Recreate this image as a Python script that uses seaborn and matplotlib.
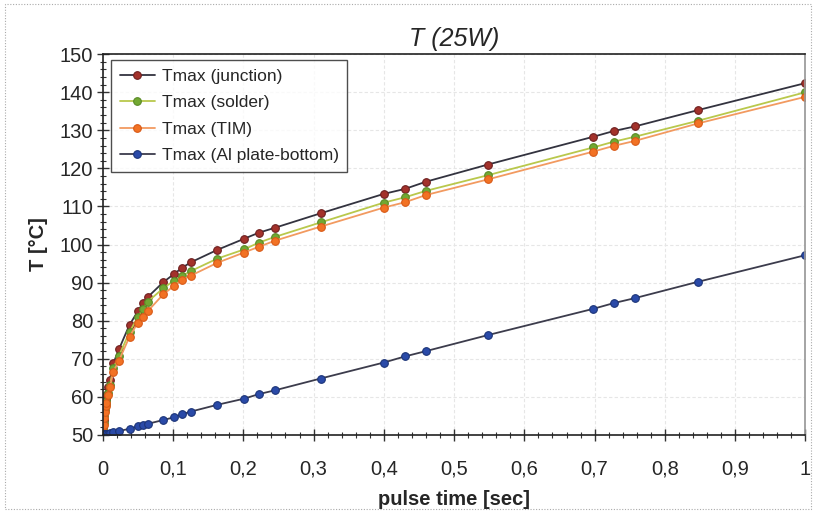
import pandas as pd
import seaborn as sns
import matplotlib.pyplot as plt
from matplotlib.patches import Rectangle
from matplotlib.ticker import MultipleLocator, FuncFormatter

sns.set_theme(style="white")
plt.rcParams['font.family'] = ['Liberation Sans', 'DejaVu Sans']

# pulse time [sec]
t = [0, 0.0005, 0.001, 0.002, 0.003, 0.004, 0.005, 0.007, 0.010, 0.015, 0.023,
     0.038, 0.050, 0.057, 0.064, 0.086, 0.101, 0.113, 0.125, 0.163, 0.201, 0.222,
     0.245, 0.310, 0.400, 0.430, 0.460, 0.548, 0.698, 0.727, 0.757, 0.847, 1.0]

junction = [50, 52, 54, 56.5, 58, 59.5, 60.5, 62.5, 64.4, 68.8, 72.5, 78.9, 82.5,
            84.6, 86.2, 90.1, 92.2, 93.9, 95.3, 98.6, 101.5, 103.1, 104.4, 108.2,
            113.3, 114.6, 116.5, 121.0, 128.3, 129.8, 131.0, 135.3, 142.4]
solder = [50, 51.5, 53, 55, 56.5, 58, 59, 61, 63, 67.5, 70.8, 77, 81, 83, 85,
          88.5, 90.5, 91.8, 93.0, 96.3, 98.7, 100.5, 102.0, 105.8, 111.0, 112.4,
          114.1, 118.2, 125.5, 127.0, 128.3, 132.5, 140.0]
tim = [50, 51, 52.5, 54.5, 56, 57.5, 58.5, 60.5, 62.5, 66.6, 69.5, 75.8, 79.5,
       81.0, 82.5, 86.9, 89.1, 90.8, 91.8, 95.2, 97.9, 99.4, 101.0, 104.7, 109.7,
       111.1, 113.0, 117.1, 124.4, 125.9, 127.2, 131.8, 138.8]
al_plate = [50, 50, 50.05, 50.1, 50.15, 50.2, 50.25, 50.35, 50.5, 50.7, 51.0, 51.6,
            52.2, 52.5, 52.9, 53.9, 54.6, 55.4, 56.1, 57.9, 59.5, 60.7, 61.7, 64.8,
            69.0, 70.6, 72.0, 76.2, 83.1, 84.6, 85.9, 90.2, 97.2]

# label, values, line colour, marker face, marker edge
series = [
    ("Tmax (junction)", junction, "#33333f", "#a3322b", "#6e2020"),
    ("Tmax (solder)", solder, "#b9c84c", "#72a832", "#5a8a26"),
    ("Tmax (TIM)", tim, "#f29a60", "#f27224", "#d85a18"),
    ("Tmax (Al plate-bottom)", al_plate, "#3c3c4c", "#2a4aa8", "#1c3478"),
]

fig = plt.figure(figsize=(8.16, 5.11), dpi=100)
ax = fig.add_axes([0.126, 0.149, 0.861, 0.745])

for label, vals, lc, mc, ec in series:
    sns.lineplot(x=t, y=vals, label=label, color=lc, linewidth=1.3, marker="o",
                 markersize=5.5, markerfacecolor=mc, markeredgecolor=ec,
                 markeredgewidth=0.8, sort=False, ax=ax)

ax.set_xlim(0, 1)
ax.set_ylim(50, 150)
ax.xaxis.set_major_locator(MultipleLocator(0.1))
ax.xaxis.set_minor_locator(MultipleLocator(0.02))
ax.yaxis.set_major_locator(MultipleLocator(10))
ax.yaxis.set_minor_locator(MultipleLocator(2))
ax.xaxis.set_major_formatter(FuncFormatter(lambda v, p: ("%g" % round(v, 2)).replace(".", ",")))
ax.tick_params(axis="both", which="major", direction="inout", length=8, width=1,
               color="#333333", labelsize=14.5, bottom=True, left=True)
ax.tick_params(axis="x", which="major", pad=14)
ax.tick_params(axis="y", which="major", pad=3)
ax.tick_params(axis="both", which="minor", direction="inout", length=4, width=0.8,
               color="#333333", bottom=True, left=True)
ax.grid(True, which="major", color="#e6e6e6", linestyle=(0, (3, 2)), linewidth=0.8)

for side in ["left", "bottom", "top"]:
    ax.spines[side].set_color("#222222")
    ax.spines[side].set_linewidth(1.2)
ax.spines["right"].set_color("#999999")

ax.set_title("T (25W)", fontsize=18, style="italic", pad=6)
ax.set_xlabel("pulse time [sec]", fontsize=14.5, fontweight="bold", labelpad=8)
ax.set_ylabel("T [°C]", fontsize=14.5, fontweight="bold", labelpad=8)

leg = ax.legend(loc="upper left", bbox_to_anchor=(0.012, 0.985), borderaxespad=0,
                fontsize=12.5, labelspacing=0.65, handlelength=2.0, handletextpad=0.4,
                frameon=True, fancybox=False, edgecolor="#222222", borderpad=0.5)
leg.get_frame().set_linewidth(1.0)

fig.patches.append(Rectangle((0.006, 0.004), 0.988, 0.988, transform=fig.transFigure,
                             fill=False, edgecolor="#aaaaaa", linestyle=(0, (1, 1.5)),
                             linewidth=0.8))

fig.savefig("out.png", dpi=100)
